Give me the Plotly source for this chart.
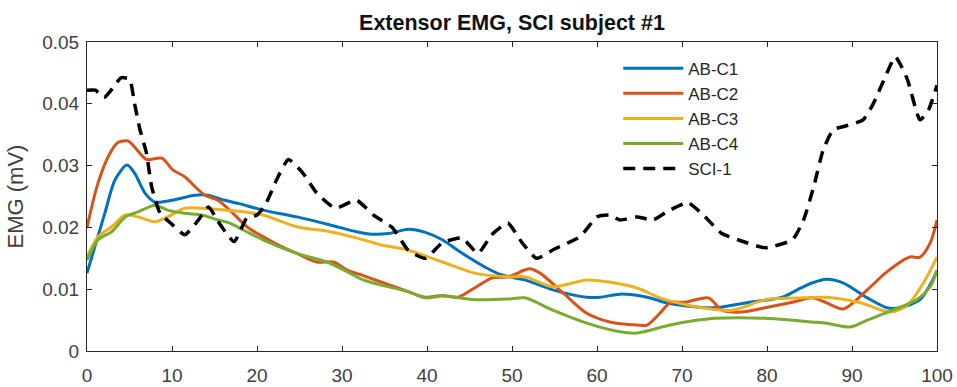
import plotly.graph_objects as go

# ---------------- data ----------------
c1_x = [0, 2.1, 3.3, 4.7, 5.6, 6.8, 8, 10, 12.7, 14.2, 16.2, 18, 20.7, 24.7, 28.6, 31.7, 33.5, 35.5,
        37.8, 39.8, 41.8, 43.6, 46.8, 48.8, 51.5, 54.8, 58.8, 60.4, 62.7, 65.9, 68.2, 70.5, 73.9, 75.9,
        78.5, 81.8, 84, 85.3, 87, 89, 91.8, 94.1, 95.6, 98, 99.5, 100]
c1_y = [0.0126, 0.0223, 0.0277, 0.0301, 0.0288, 0.0256, 0.0241, 0.0244, 0.0252, 0.0252, 0.0244, 0.0238,
        0.0228, 0.0217, 0.0204, 0.0193, 0.0189, 0.0190, 0.0197, 0.0192, 0.0180, 0.0163, 0.0136, 0.0123,
        0.0115, 0.0099, 0.0087, 0.0087, 0.0092, 0.0087, 0.0078, 0.0073, 0.0070, 0.0074, 0.0080, 0.0087,
        0.0102, 0.0110, 0.0116, 0.0110, 0.0086, 0.0070, 0.0070, 0.0083, 0.0115, 0.0130]

c2_x = [0, 1.3, 2.7, 3.6, 4.8, 5.6, 7, 8.8, 10.1, 11.5, 12.7, 13.9, 15.4, 16.8, 18.8, 20.7, 22.7, 24.7,
        27, 29, 30.6, 32.5, 34.5, 37, 39.8, 41.8, 43.6, 45.6, 47.6, 49.5, 51.5, 52.1, 53.3, 56, 58.8,
        61.5, 64.7, 65.9, 67.4, 68.6, 70.4, 73.1, 74.7, 77, 79.8, 83, 85.3, 87, 89, 91.8, 94.1, 96.8,
        98, 99.2, 100]
c2_y = [0.0200, 0.0272, 0.0320, 0.0337, 0.0340, 0.0330, 0.0310, 0.0312, 0.0293, 0.0282, 0.0266, 0.0252,
        0.0244, 0.0228, 0.0201, 0.0185, 0.0170, 0.0158, 0.0144, 0.0144, 0.0131, 0.0122, 0.0112, 0.0100,
        0.0087, 0.0090, 0.0087, 0.0102, 0.0118, 0.0120, 0.0131, 0.0133, 0.0126, 0.0094, 0.0061, 0.0047,
        0.0042, 0.0042, 0.0061, 0.0078, 0.0079, 0.0086, 0.0066, 0.0063, 0.0070, 0.0079, 0.0086, 0.0078,
        0.0068, 0.0099, 0.0128, 0.0152, 0.0152, 0.0175, 0.0212]

c3_x = [0, 1.3, 2.9, 4.5, 6, 8, 9.5, 11.5, 13.5, 16.2, 18, 20.7, 24.7, 28.6, 31.7, 34.5, 37.8, 41.8,
        45.6, 49.5, 51.5, 54.8, 58.8, 61.2, 64.7, 67.4, 69.5, 71.9, 75.9, 79.8, 84.5, 87, 91, 94.5,
        96.5, 98.4, 100]
c3_y = [0.0152, 0.0185, 0.0201, 0.0220, 0.0217, 0.0209, 0.0217, 0.0231, 0.0231, 0.0228, 0.0226, 0.0220,
        0.0201, 0.0193, 0.0183, 0.0172, 0.0163, 0.0144, 0.0126, 0.0120, 0.0120, 0.0104, 0.0115, 0.0112,
        0.0102, 0.0086, 0.0078, 0.0071, 0.0066, 0.0083, 0.0086, 0.0087, 0.0078, 0.0063, 0.0074, 0.0110,
        0.0152]

c4_x = [0, 1.3, 2.9, 4.5, 6, 8, 9.5, 11.5, 13.5, 15.4, 16.8, 18.5, 20.7, 24.7, 28.6, 32.5, 34.5, 37.8,
        39.8, 41.8, 45.6, 49.5, 51.5, 54.8, 58.8, 62.7, 64.7, 68.6, 71.9, 73.9, 79.8, 85.3, 87, 89.8,
        91.8, 94.8, 97.6, 99.2, 100]
c4_y = [0.0147, 0.0180, 0.0193, 0.0217, 0.0225, 0.0236, 0.0228, 0.0223, 0.0220, 0.0212, 0.0207, 0.0195,
        0.0180, 0.0158, 0.0142, 0.0115, 0.0107, 0.0096, 0.0086, 0.0089, 0.0083, 0.0084, 0.0086, 0.0066,
        0.0045, 0.0031, 0.0029, 0.0042, 0.0050, 0.0053, 0.0053, 0.0047, 0.0045, 0.0039, 0.0050, 0.0066,
        0.0083, 0.0104, 0.0131]

sci_x = [0, 1, 2, 3, 4, 5, 5.6, 6.2, 7, 7.6, 8.6, 10, 11.5, 13, 14.3, 15.4, 17.3, 18.8, 20, 21.1, 22.3,
         23.7, 25.4, 27, 29.2, 31.7, 33.7, 35.9, 37.8, 39.8, 41.8, 44.1, 46, 47.6, 49.5, 51.2, 52.9, 55,
         58, 60, 61.5, 62.7, 64.7, 66.6, 68.2, 70.7, 72.5, 74.7, 77, 79.8, 83, 84.3, 85.5, 86.6, 87.8,
         89.5, 91.3, 92.5, 93.8, 95.1, 96.5, 98, 99, 100]
sci_y = [0.0422, 0.0422, 0.0410, 0.0425, 0.0442, 0.0440, 0.0400, 0.0360, 0.0320, 0.0266, 0.0223, 0.0205,
         0.0188, 0.0210, 0.0233, 0.0210, 0.0177, 0.0215, 0.0220, 0.0240, 0.0277, 0.0310, 0.0288, 0.0256,
         0.0231, 0.0244, 0.0220, 0.0200, 0.0163, 0.0150, 0.0175, 0.0183, 0.0158, 0.0188, 0.0207, 0.0175,
         0.0150, 0.0165, 0.0185, 0.0217, 0.0220, 0.0212, 0.0217, 0.0212, 0.0225, 0.0240, 0.0220, 0.0190,
         0.0178, 0.0167, 0.0180, 0.0212, 0.0266, 0.0325, 0.0358, 0.0365, 0.0374, 0.0400, 0.0440, 0.0476,
         0.0440, 0.0374, 0.0390, 0.0430]

names = ["AB-C1", "AB-C2", "AB-C3", "AB-C4", "SCI-1"]
colors = ["#0072BD", "#D95319", "#EDB120", "#77AC30", "#000000"]

x_ticks = [0, 10, 20, 30, 40, 50, 60, 70, 80, 90, 100]
y_ticks = [0, 0.01, 0.02, 0.03, 0.04, 0.05]
y_tick_text = ["0", "0.01", "0.02", "0.03", "0.04", "0.05"]

title_text = "Extensor EMG, SCI subject #1"
y_title = "EMG (mV)"

# ---------------- figure ----------------
fig = go.Figure()
series = [(c1_x, c1_y), (c2_x, c2_y), (c3_x, c3_y), (c4_x, c4_y)]
for (xs, ys), nm, col in zip(series, names[:4], colors[:4]):
    fig.add_trace(go.Scatter(x=xs, y=ys, mode="lines", name=nm,
                             line=dict(color=col, width=3, shape="spline", smoothing=0.8)))
fig.add_trace(go.Scatter(x=sci_x, y=sci_y, mode="lines", name=names[4],
                         line=dict(color=colors[4], width=3.5, dash="12px,8px",
                                   shape="spline", smoothing=0.5)))

axis_col = "#262626"
tick_col = "#404040"
font_fam = "Liberation Sans, Arial, sans-serif"
fig.update_layout(
    width=957, height=387,
    margin=dict(l=87, r=20, t=42, b=36, autoexpand=False),
    paper_bgcolor="white", plot_bgcolor="white",
    font=dict(family=font_fam, size=19, color=tick_col),
    title=dict(text="<b>" + title_text + "</b>", x=0.535, xanchor="center", y=0.942, yanchor="middle",
               font=dict(family=font_fam, size=21.5, color="#111111")),
    showlegend=True,
    legend=dict(x=0.625, y=0.972, xanchor="left", yanchor="top", bgcolor="rgba(255,255,255,1)",
                borderwidth=0, font=dict(family=font_fam, size=17, color=axis_col),
                itemwidth=60, tracegroupgap=0),
)
fig.update_xaxes(range=[0, 100], tickvals=x_ticks, ticks="inside", ticklen=5, tickcolor=axis_col,
                 showline=True, linecolor=axis_col, linewidth=1, mirror="ticks", showgrid=False,
                 zeroline=False, tickfont=dict(size=19, color=tick_col), ticklabelstandoff=7,
                 automargin=False)
fig.update_yaxes(range=[0, 0.05], tickvals=y_ticks, ticktext=y_tick_text, ticks="inside", ticklen=5,
                 tickcolor=axis_col, showline=True, linecolor=axis_col, linewidth=1, mirror="ticks",
                 showgrid=False, zeroline=False, tickfont=dict(size=19, color=tick_col),
                 ticklabelstandoff=3, automargin=False,
                 title=dict(text=y_title, font=dict(size=22, color=tick_col), standoff=12))

fig.write_html("out.html")
